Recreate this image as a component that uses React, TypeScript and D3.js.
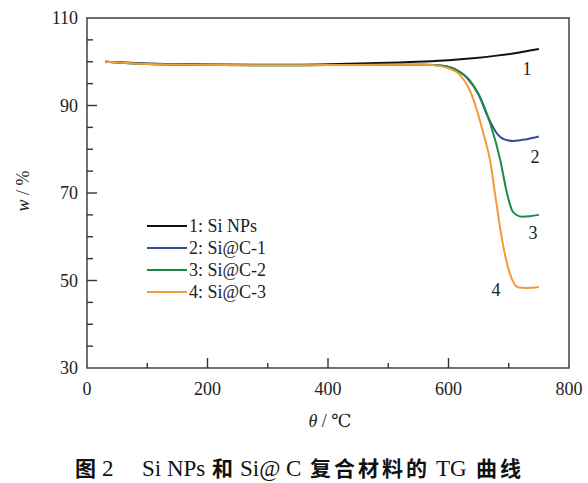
import React, { useEffect, useRef } from 'react';
import * as d3 from 'd3';

// temperature (°C) and mass (%)
const tempSiNPs = [30, 100, 200, 300, 400, 500, 560, 600, 640, 680, 710, 750];
const massSiNPs = [100, 99.6, 99.4, 99.3, 99.45, 99.75, 100.05, 100.35, 100.8, 101.4, 101.95, 102.9];

const tempSiC1 = [30, 100, 200, 300, 400, 500, 560, 590, 610, 630, 650, 665, 680, 694, 708, 730, 750];
const massSiC1 = [100, 99.5, 99.3, 99.2, 99.25, 99.3, 99.3, 99.1, 98.3, 96.4, 92.5, 87.5, 83.7, 82.2, 81.9, 82.3, 82.9];

const tempSiC2 = [30, 100, 200, 300, 400, 500, 560, 590, 614, 635, 652, 669, 686, 697, 707, 722, 735, 750];
const massSiC2 = [100, 99.5, 99.3, 99.2, 99.25, 99.3, 99.3, 99.1, 98.1, 95.8, 92, 86, 77.5, 70, 65.7, 64.6, 64.7, 65];

const tempSiC3 = [30, 100, 200, 300, 400, 500, 560, 586, 602, 619, 635, 647, 659, 669, 677, 690, 702, 716, 730, 750];
const massSiC3 = [100, 99.5, 99.3, 99.2, 99.25, 99.3, 99.3, 99.0, 98.4, 97.0, 93.6, 89, 83, 77.5, 70, 58.5, 51.5, 48.4, 48.3, 48.5];

const seriesNames = ['1: Si NPs', '2: Si@C-1', '3: Si@C-2', '4: Si@C-3'];
const seriesTags = ['1', '2', '3', '4'];
const seriesColors = ['#111111', '#3b4c9b', '#1e8a4a', '#f39a3a'];

const xTicks = [0, 200, 400, 600, 800];
const yTicks = [30, 50, 70, 90, 110];

// figure caption pieces: [text, is CJK]
const captionParts: [string, boolean][] = [
  ['图', true], ['2', false], ['Si NPs', false], ['和', true], ['Si@ C', false],
  ['复合材料的', true], ['TG', false], ['曲线', true]
];

const App = () => {
  const ref = useRef<SVGSVGElement | null>(null);

  useEffect(() => {
    if (ref.current) drawChart(ref.current);
  }, []);

  return (
    <svg
      ref={ref}
      width={588}
      height={483}
      style={{ position: 'absolute', left: 0, top: 0, background: '#fff' }}
    />
  );
};

function drawChart(el: SVGSVGElement) {
  const svg = d3.select(el);
  svg.selectAll('*').remove();

  const left = 87, right = 569, top = 18, bottom = 368;
  const axisColor = '#333';
  const serif = 'Liberation Serif, DejaVu Serif, serif';

  const x = d3.scaleLinear().domain([0, 800]).range([left, right]);
  const y = d3.scaleLinear().domain([30, 110]).range([bottom, top]);

  // frame
  svg.append('rect')
    .attr('x', left).attr('y', top)
    .attr('width', right - left).attr('height', bottom - top)
    .attr('fill', 'none').attr('stroke', axisColor).attr('stroke-width', 1.4);

  // x ticks (inward)
  d3.range(100, 800, 100).forEach(v => {
    const len = v % 200 === 0 ? 10 : 5;
    svg.append('line')
      .attr('x1', x(v)).attr('x2', x(v))
      .attr('y1', bottom).attr('y2', bottom - len)
      .attr('stroke', axisColor).attr('stroke-width', 1.4);
  });
  // y ticks (inward)
  d3.range(35, 110, 5).forEach(v => {
    const len = v % 20 === 10 ? 10 : 6;
    svg.append('line')
      .attr('x1', left).attr('x2', left + len)
      .attr('y1', y(v)).attr('y2', y(v))
      .attr('stroke', axisColor).attr('stroke-width', 1.4);
  });

  svg.selectAll('.xlab')
    .data(xTicks)
    .enter().append('text')
    .attr('x', d => x(d))
    .attr('y', bottom + 27)
    .attr('text-anchor', 'middle')
    .attr('font-family', serif).attr('font-size', 18).attr('fill', '#222')
    .text(d => d);

  svg.selectAll('.ylab')
    .data(yTicks)
    .enter().append('text')
    .attr('x', left - 9)
    .attr('y', d => y(d) + 6)
    .attr('text-anchor', 'end')
    .attr('font-family', serif).attr('font-size', 18).attr('fill', '#222')
    .text(d => d);

  // axis titles
  const xt = svg.append('text')
    .attr('x', 330).attr('y', 427)
    .attr('text-anchor', 'middle')
    .attr('font-family', serif).attr('font-size', 18).attr('fill', '#222');
  xt.append('tspan').attr('font-style', 'italic').text('θ');
  xt.append('tspan').text(' / ℃');

  const yt = svg.append('text')
    .attr('transform', 'translate(29,191) rotate(-90)')
    .attr('text-anchor', 'middle')
    .attr('font-family', serif).attr('font-size', 18).attr('fill', '#222');
  yt.append('tspan').attr('font-style', 'italic').text('w');
  yt.append('tspan').text(' / %');

  // curves
  const temps = [tempSiNPs, tempSiC1, tempSiC2, tempSiC3];
  const masses = [massSiNPs, massSiC1, massSiC2, massSiC3];
  const line = d3.line<[number, number]>()
    .x(d => x(d[0]))
    .y(d => y(d[1]))
    .curve(d3.curveMonotoneX);

  temps.forEach((t, i) => {
    const pts = t.map((v, j) => [v, masses[i][j]] as [number, number]);
    svg.append('path')
      .attr('d', line(pts))
      .attr('fill', 'none')
      .attr('stroke', seriesColors[i])
      .attr('stroke-width', 2);
  });

  // curve tags
  const tagPos = [[527, 75], [535, 163], [533, 239], [496, 296]];
  seriesTags.forEach((s, i) => {
    svg.append('text')
      .attr('x', tagPos[i][0]).attr('y', tagPos[i][1])
      .attr('text-anchor', 'middle')
      .attr('font-family', serif).attr('font-size', 18).attr('fill', '#222')
      .text(s);
  });

  // legend
  seriesNames.forEach((s, i) => {
    const ly = 226 + i * 22;
    svg.append('line')
      .attr('x1', 147).attr('x2', 187)
      .attr('y1', ly).attr('y2', ly)
      .attr('stroke', seriesColors[i]).attr('stroke-width', 2);
    svg.append('text')
      .attr('x', 189).attr('y', ly + 6)
      .attr('font-family', serif).attr('font-size', 18).attr('fill', '#222')
      .text(s);
  });

  // caption: bold CJK, regular serif latin, placed piece by piece
  const capX = [75, 102, 142, 212, 240, 310, 436, 476];
  captionParts.forEach(([t, cjk], i) => {
    const tx = svg.append('text')
      .attr('x', capX[i]).attr('y', 476)
      .attr('fill', '#111')
      .text(t);
    if (cjk) {
      tx.attr('font-family', 'Noto Sans CJK SC').attr('font-weight', 'bold')
        .attr('font-size', 21).attr('letter-spacing', 3);
    } else {
      tx.attr('font-family', serif).attr('font-size', 23);
    }
  });
}

export default App;
